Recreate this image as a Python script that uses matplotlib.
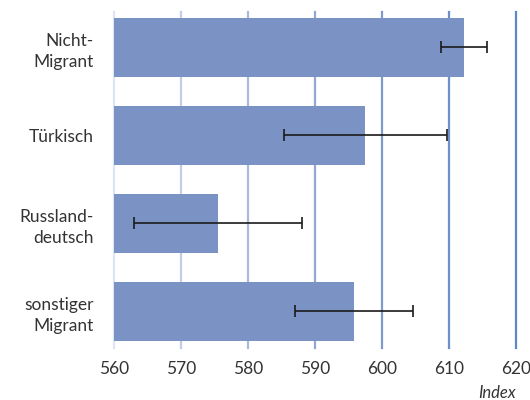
import matplotlib
matplotlib.use("Agg")
import matplotlib.pyplot as plt

categories = ["Nicht-\nMigrant", "Türkisch", "Russland-\ndeutsch", "sonstiger\nMigrant"]
values = [612.2, 597.5, 575.5, 595.8]
errors = [3.5, 12.15, 12.55, 8.85]
xticks = [560, 570, 580, 590, 600, 610, 620]
grid_colors = ["#dfe4f3", "#c4cde8", "#acb9de", "#93a7d4", "#7d9bcc", "#6a91c8", "#5a89c5"]

fig = plt.figure(figsize=(5.3, 4.0), dpi=100)
ax = fig.add_axes([0.2155, 0.13, 0.7585, 0.84])
font = "Lato"

ypos = list(range(len(categories)))
for x, c in zip(xticks, grid_colors):
    ax.axvline(x, color=c, lw=1.6, zorder=0, clip_on=False)
ax.barh(ypos, [v - 560 for v in values], left=560, height=0.67,
        color="#7b93c4", zorder=2)
ax.errorbar(values, ypos, xerr=errors, fmt="none", ecolor="#1a1a1a",
            elinewidth=1.2, capsize=4, capthick=1.2, zorder=3)

ax.set_xlim(560, 620)
ax.set_ylim(3.415, -0.403)
ax.set_xticks(xticks)
ax.set_xticklabels([str(t) for t in xticks], fontsize=12.5, color="#333333", family=font)
ax.set_yticks(ypos)
ax.set_yticklabels(categories, fontsize=12.5, color="#333333", family=font,
                   ha="right", multialignment="right", linespacing=1.35)
ax.tick_params(axis="both", length=0)
ax.tick_params(axis="x", pad=9)
ax.tick_params(axis="y", pad=15)
for s in ax.spines.values():
    s.set_visible(False)

fig.text(516 / 530, 1 - 393 / 400, "Index", ha="right", va="center",
         fontsize=12, style="italic", color="#333333", family=font)

fig.savefig("out.png", dpi=100)
